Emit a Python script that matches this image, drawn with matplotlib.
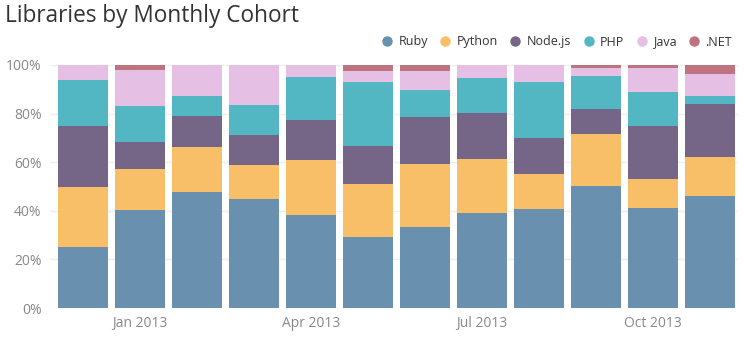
import matplotlib.pyplot as plt
import numpy as np

plt.rcParams['font.family'] = ['Open Sans', 'DejaVu Sans']

months = ['Dec 2012', 'Jan 2013', 'Feb 2013', 'Mar 2013', 'Apr 2013', 'May 2013',
          'Jun 2013', 'Jul 2013', 'Aug 2013', 'Sep 2013', 'Oct 2013', 'Nov 2013']
tick_labels = ['Jan 2013', 'Apr 2013', 'Jul 2013', 'Oct 2013']
tick_months = ['Jan 2013', 'Apr 2013', 'Jul 2013', 'Oct 2013']

# share of libraries per cohort, percent
ruby = [25.0, 40.5, 47.9, 45.0, 38.4, 29.4, 33.5, 39.3, 40.9, 50.3, 41.3, 46.2]
python = [25.0, 16.8, 18.4, 14.0, 22.6, 21.8, 25.9, 22.1, 14.4, 21.4, 11.9, 16.0]
nodejs = [25.0, 11.1, 12.8, 12.3, 16.4, 15.6, 19.3, 18.9, 14.7, 10.2, 21.8, 21.8]
php = [18.8, 14.8, 8.2, 12.3, 17.7, 26.2, 11.0, 14.4, 23.0, 13.6, 13.9, 3.3]
java = [6.2, 14.7, 12.7, 16.4, 4.9, 4.5, 7.8, 5.3, 7.0, 3.3, 9.9, 9.0]
dotnet = [0.0, 2.1, 0.0, 0.0, 0.0, 2.5, 2.5, 0.0, 0.0, 1.2, 1.2, 3.7]

series = [('Ruby', ruby, '#6990ae'),
          ('Python', python, '#f9bf68'),
          ('Node.js', nodejs, '#756586'),
          ('PHP', php, '#52b6c3'),
          ('Java', java, '#e5bfe4'),
          ('.NET', dotnet, '#bf737f')]

fig = plt.figure(figsize=(7.55, 3.51), dpi=100)
ax = fig.add_axes([50 / 755, 43 / 351, 688 / 755, 243 / 351])

x = np.arange(len(months))
bottom = np.zeros(len(months))
for name, vals, col in series:
    ax.bar(x, vals, width=0.877, bottom=bottom, color=col, label=name, zorder=2)
    bottom += np.array(vals)

ax.set_xlim(-0.57, len(months) - 0.51)
ax.set_ylim(0, 100)
ax.set_yticks([0, 20, 40, 60, 80, 100])
ax.set_yticklabels([f'{v}%' for v in [0, 20, 40, 60, 80, 100]])
ax.set_xticks([months.index(m) for m in tick_months])
ax.set_xticklabels(tick_labels)
ax.tick_params(length=0, colors='#888888', labelsize=10, pad=6)
ax.grid(axis='y', color='#eeeeee', linewidth=1, zorder=0)
for s in ax.spines.values():
    s.set_visible(False)

fig.text(5 / 755, 1 - 16 / 351, 'Libraries by Monthly Cohort', fontsize=16.3,
         color='#333333', va='center', ha='left')

handles = [plt.Line2D([], [], marker='o', linestyle='', color=c, markersize=6.5)
           for _, _, c in series]
fig.legend(handles, [n for n, _, _ in series], loc='center right',
           bbox_to_anchor=(743 / 755, 1 - 42 / 351), ncol=6, frameon=False,
           fontsize=9, handletextpad=0.4, columnspacing=0.9, handlelength=1.0,
           labelcolor='#333333')

fig.savefig('out.png', dpi=100)
